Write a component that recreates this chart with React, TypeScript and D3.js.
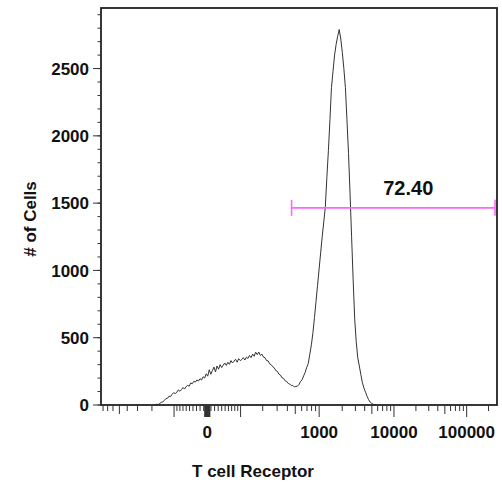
import React from 'react';
import * as d3 from 'd3';

const WIDTH = 502;
const HEIGHT = 486;
const PLOT = { left: 101, right: 497, top: 8, bottom: 405 };

// Logicle (biexponential) display parameters
const LOGICLE_T = 262144;
const LOGICLE_M = 4.5;
const LOGICLE_W = 0.5;
const X_MIN = -850;
const N_CHANNELS = 256;

// Histogram: display channel (256-channel logicle scale) and cell counts
const channels = [
  35, 36, 37, 38, 39, 40, 41, 42, 43, 44, 45, 46, 47, 48, 49, 50, 51, 52, 53, 54,
  55, 56, 57, 58, 59, 60, 61, 62, 63, 64, 65, 66, 67, 68, 69, 70, 71, 72, 73, 74,
  75, 76, 77, 78, 79, 80, 81, 82, 83, 84, 85, 86, 87, 88, 89, 90, 91, 92, 93, 94,
  95, 96, 97, 98, 99, 100, 101, 102, 103, 104, 105, 106, 107, 108, 109, 110, 111, 112, 113, 114,
  115, 116, 117, 118, 119, 120, 121, 122, 123, 124, 125, 126, 127, 128, 129, 130, 131, 132, 133, 134,
  135, 136, 137, 138, 139, 140, 141, 142, 143, 144, 145, 146, 147, 148, 149, 150, 151, 152, 153, 154,
  155, 156, 157, 158, 159, 160, 161, 162, 163, 164, 165, 166, 167, 168, 169, 170, 171, 172, 173, 174,
  175, 176, 177, 178,
];
const counts = [
  0, 6, 3, 12, 20, 24, 34, 48, 50, 66, 62, 80, 92, 84, 96, 112, 102, 114, 130, 118,
  136, 146, 140, 164, 158, 176, 170, 186, 178, 196, 186, 210, 200, 232, 214, 262, 228, 256, 282, 246,
  290, 266, 300, 278, 296, 312, 294, 318, 302, 330, 312, 326, 340, 318, 344, 330, 338, 352, 334, 356,
  346, 368, 352, 378, 362, 392, 374, 394, 368, 378, 356, 352, 330, 328, 306, 300, 284, 276, 256, 250,
  230, 222, 202, 198, 180, 176, 160, 156, 144, 146, 134, 138, 140, 152, 175, 188, 216, 243, 280, 308,
  378, 447, 538, 650, 770, 890, 1010, 1130, 1250, 1360, 1470, 1690, 1890, 2120, 2360, 2480, 2600, 2680, 2740, 2790,
  2720, 2620, 2500, 2360, 2120, 1870, 1570, 1250, 930, 640, 470, 350, 290, 225, 165, 125, 95, 65, 40, 22,
  12, 5, 2, 0,
];

const Y_MAX = 2950;
const yTickLabels = [0, 500, 1000, 1500, 2000, 2500];
const xTickLabels = [0, 1000, 10000, 100000];
const xMajorTicks = [-100, 0, 100, 1000, 10000, 100000];

// Gate
const gateLow = 450;
const gateHigh = 246000;
const gateLevel = 1465;
const gateLabel = '72.40';

const xTitle = 'T cell Receptor';
const yTitle = '# of Cells';

function makeLogicle(T: number, M: number, Wd: number) {
  const m = M * Math.LN10;
  const w = Wd * Math.LN10;
  let lo = 1.000001, hi = 100;
  for (let i = 0; i < 100; i++) {
    const mid = (lo + hi) / 2;
    const f = (2 * mid * Math.log(mid)) / (mid + 1);
    if (f < w) lo = mid; else hi = mid;
  }
  const p = (lo + hi) / 2;
  const s = T * Math.exp(-(m - w));
  const S = (yv: number) => {
    const u = yv - w;
    if (u >= 0) return s * (Math.exp(u) - p * p * Math.exp(-u / p) + p * p - 1);
    return -s * (Math.exp(-u) - p * p * Math.exp(u / p) + p * p - 1);
  };
  return (x: number) => {
    let a = -40, b = m + 5;
    for (let i = 0; i < 90; i++) {
      const mid = (a + b) / 2;
      if (S(mid) < x) a = mid; else b = mid;
    }
    return (a + b) / 2;
  };
}

const logicle = makeLogicle(LOGICLE_T, LOGICLE_M, LOGICLE_W);
const xDisp = d3.scaleLinear().domain([logicle(X_MIN), logicle(LOGICLE_T)]).range([PLOT.left, PLOT.right]);
const xVal = (v: number) => xDisp(logicle(v));
const xChan = d3.scaleLinear().domain([0, N_CHANNELS]).range([PLOT.left, PLOT.right]);
const y = d3.scaleLinear().domain([0, Y_MAX]).range([PLOT.bottom, PLOT.top]);

function buildXTicks() {
  const ticks: { v: number; len: number }[] = [];
  const decades = [1, 10, 100, 1000, 10000, 100000];
  for (const k of decades) {
    for (let j = 1; j <= 9; j++) {
      for (const sgn of [1, -1]) {
        const v = sgn * j * k;
        if (v < X_MIN || v > LOGICLE_T) continue;
        if (sgn < 0 && k > 100) continue;
        if (k === 1 && j > 7) continue;
        let len = 6;
        if (xMajorTicks.includes(v) || Math.abs(v) < 10) len = 12;
        else if (j === 5 && k >= 100) len = 9;
        ticks.push({ v, len });
      }
    }
  }
  ticks.push({ v: 0, len: 12 });
  return ticks;
}

const xTicks = buildXTicks();
const yMinor = d3.range(0, Y_MAX, 100);

const FONT = "'Liberation Sans', Arial, Helvetica, sans-serif";

export default function App() {
  const line = d3
    .line<number>()
    .x((_, i) => xChan(channels[i]))
    .y((d) => y(d));
  const path = line(counts) || '';
  const gx1 = xVal(gateLow);
  const gx2 = xVal(gateHigh);
  const gy = y(gateLevel);

  return (
    <svg
      width={WIDTH}
      height={HEIGHT}
      style={{ position: 'absolute', left: 0, top: 0, background: '#fff' }}
      fontFamily={FONT}
    >
      <rect x={0} y={0} width={WIDTH} height={HEIGHT} fill="#fff" />
      {/* histogram */}
      <path d={path} fill="none" stroke="#333" strokeWidth={1} strokeLinejoin="round" />

      {/* gate */}
      <g stroke="#ff66ff" strokeWidth={1.6}>
        <line x1={gx1} x2={gx2} y1={gy} y2={gy} />
        <line x1={gx1} x2={gx1} y1={gy - 8} y2={gy + 8} />
        <line x1={gx2} x2={gx2} y1={gy - 8} y2={gy + 8} />
      </g>
      <text x={(gx1 + gx2) / 2 + 15} y={gy - 13} textAnchor="middle" fontSize={20} fontWeight="bold" fill="#111">
        {gateLabel}
      </text>

      {/* frame */}
      <rect
        x={PLOT.left}
        y={PLOT.top}
        width={PLOT.right - PLOT.left}
        height={PLOT.bottom - PLOT.top}
        fill="none"
        stroke="#222"
        strokeWidth={1.8}
      />

      {/* y axis ticks */}
      <g stroke="#333" strokeWidth={1}>
        {yMinor.map((v) => (
          <line key={'ym' + v} x1={PLOT.left - 3.5} x2={PLOT.left} y1={y(v)} y2={y(v)} />
        ))}
        {yTickLabels.map((v) => (
          <line key={'yM' + v} x1={PLOT.left - 8} x2={PLOT.left} y1={y(v)} y2={y(v)} />
        ))}
      </g>
      {yTickLabels.map((v) => (
        <text
          key={'yl' + v}
          x={PLOT.left - 12}
          y={y(v)}
          dy="0.36em"
          textAnchor="end"
          fontSize={17}
          fontWeight="bold"
          fill="#111"
        >
          {v}
        </text>
      ))}

      {/* x axis ticks */}
      <g stroke="#333" strokeWidth={1}>
        {xTicks.map((t, i) => (
          <line key={'xt' + i} x1={xVal(t.v)} x2={xVal(t.v)} y1={PLOT.bottom} y2={PLOT.bottom + t.len} />
        ))}
      </g>
      {xTickLabels.map((v) => (
        <text
          key={'xl' + v}
          x={xVal(v)}
          y={438}
          textAnchor="middle"
          fontSize={17}
          fontWeight="bold"
          fill="#111"
        >
          {v}
        </text>
      ))}

      {/* titles */}
      <text x={253} y={477} textAnchor="middle" fontSize={17} fontWeight="bold" fill="#111">
        {xTitle}
      </text>
      <text
        transform="translate(30,219) rotate(-90)"
        textAnchor="middle"
        dy="0.36em"
        fontSize={17}
        fontWeight="bold"
        fill="#111"
      >
        {yTitle}
      </text>
    </svg>
  );
}
